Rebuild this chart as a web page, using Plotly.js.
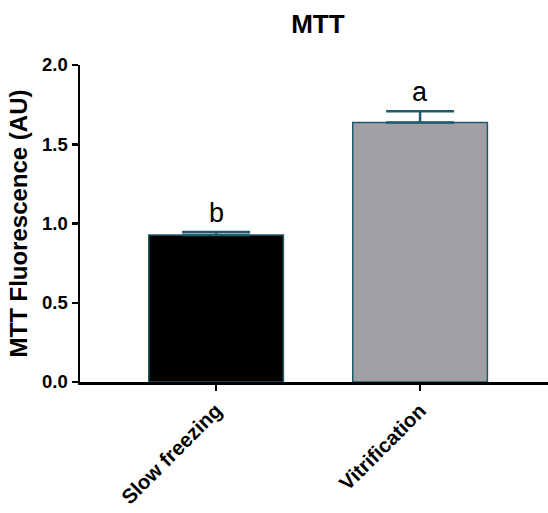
<!DOCTYPE html>
<html>
<head>
<meta charset="utf-8">
<script src="https://cdn.plot.ly/plotly-3.0.1.min.js"></script>
<style>html,body{margin:0;padding:0;background:#fff;}#chart{width:548px;height:513px;}</style>
</head>
<body>
<div id="chart"></div>
<script>
const categories = ["Slow freezing", "Vitrification"];
const means = [0.927, 1.638];
const errors = [0.02, 0.07];
const letters = ["b", "a"];
const barColors = ["#000000", "#a09fa4"];

const FONT = "Liberation Sans, Arial, sans-serif";

const trace = {
  type: "bar",
  x: categories,
  y: means,
  width: 0.66,
  marker: {color: barColors, line: {color: "#1f5b6b", width: 1.5}},
  error_y: {type: "data", symmetric: false, array: errors, arrayminus: [0, 0],
            color: "#1f5b6b", thickness: 2.5, width: 34},
  hoverinfo: "skip"
};

const annotations = categories.map((c, i) => ({
  x: c, y: means[i] + errors[i], xref: "x", yref: "y",
  text: letters[i], showarrow: false, yanchor: "bottom", yshift: 2,
  font: {family: FONT, size: 27, color: "#000"}
}));

const layout = {
  width: 548, height: 513,
  margin: {l: 80, r: 0, t: 65, b: 131},
  paper_bgcolor: "#fff", plot_bgcolor: "#fff",
  showlegend: false,
  title: {text: "<b>MTT</b>", x: 0.58, xanchor: "center", y: 0.953, yanchor: "middle",
          font: {family: FONT, size: 26, color: "#000"}},
  xaxis: {
    range: [-0.667, 1.627], showgrid: false, zeroline: false,
    showline: true, linecolor: "#000", linewidth: 2.5,
    ticks: "outside", ticklen: 6, tickwidth: 2.5, tickcolor: "#000",
    tickangle: -45,
    tickfont: {family: FONT, size: 20.5, color: "#000", weight: "bold"}
  },
  yaxis: {
    range: [0, 2], dtick: 0.5, tickformat: ".1f", showgrid: false, zeroline: false,
    showline: true, linecolor: "#000", linewidth: 2.5,
    ticks: "outside", ticklen: 6, tickwidth: 2.5, tickcolor: "#000",
    tickfont: {family: FONT, size: 18.5, color: "#000", weight: "bold"},
    title: {text: "<b>MTT Fluorescence (AU)</b>", standoff: 8,
            font: {family: FONT, size: 24, color: "#000"}}
  },
  annotations: annotations
};

Plotly.newPlot("chart", [trace], layout, {displayModeBar: false, staticPlot: true});
</script>
</body>
</html>
